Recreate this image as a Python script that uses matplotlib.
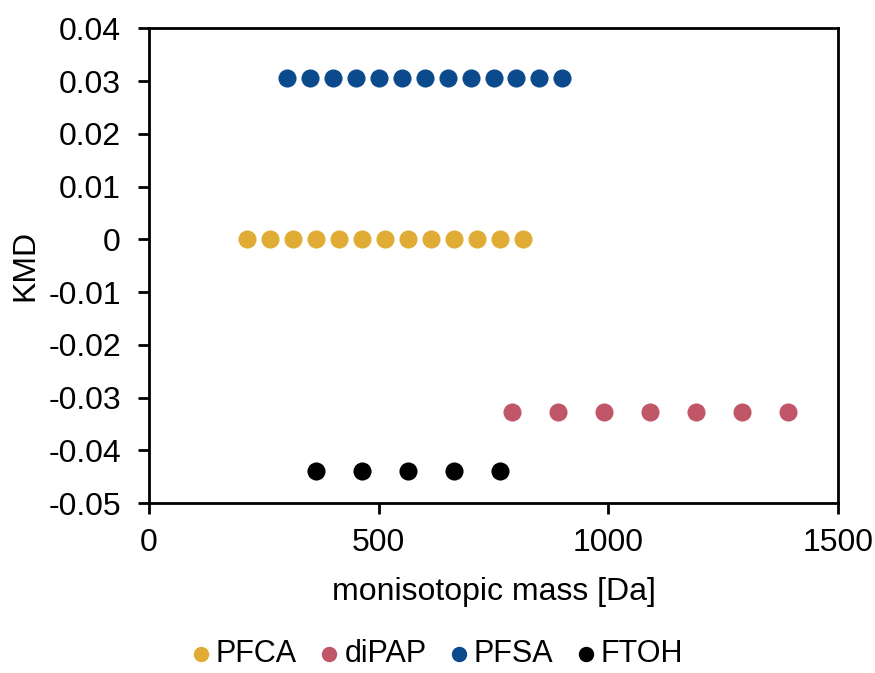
import matplotlib.pyplot as plt
import numpy as np

plt.rcParams['font.family'] = ['Liberation Sans', 'DejaVu Sans']

# monoisotopic masses [Da] and KMD values per class
pfca_mass = [214, 264, 314, 364, 414, 464, 514, 564, 614, 664, 714, 764, 814]
pfca_kmd = [0.0] * len(pfca_mass)

dipap_mass = [790, 890, 990, 1090, 1190, 1290, 1390]
dipap_kmd = [-0.0328] * len(dipap_mass)

pfsa_mass = [300, 350, 400, 450, 500, 550, 600, 650, 700, 750, 800, 850, 900]
pfsa_kmd = [0.0306] * len(pfsa_mass)

ftoh_mass = [364, 464, 564, 664, 764]
ftoh_kmd = [-0.0439] * len(ftoh_mass)

series = [
    ('PFCA', pfca_mass, pfca_kmd, '#E1AC35'),
    ('diPAP', dipap_mass, dipap_kmd, '#C05668'),
    ('PFSA', pfsa_mass, pfsa_kmd, '#0B4A8C'),
    ('FTOH', ftoh_mass, ftoh_kmd, '#000000'),
]

fs = 23

fig = plt.figure(figsize=(8.75, 6.73), dpi=100)
ax = fig.add_axes([0.170, 0.2526, 0.788, 0.7054])

for name, x, y, c in series:
    ax.scatter(x, y, s=170, color=c, label=name, linewidths=0, zorder=3)

ax.set_xlim(0, 1500)
ax.set_ylim(-0.05, 0.04)
ax.set_xticks([0, 500, 1000, 1500])
ax.set_yticks(np.round(np.arange(-0.05, 0.0401, 0.01), 2))
ax.set_yticklabels(['-0.05', '-0.04', '-0.03', '-0.02', '-0.01', '0',
                    '0.01', '0.02', '0.03', '0.04'])

for sp in ax.spines.values():
    sp.set_linewidth(2)
    sp.set_color('black')
ax.tick_params(direction='out', length=8, width=2, labelsize=fs)
ax.tick_params(axis='y', pad=12)
ax.tick_params(axis='x', pad=10)

ax.set_xlabel('monisotopic mass [Da]', fontsize=fs, labelpad=14)
ax.set_ylabel('KMD', fontsize=fs, labelpad=6)

fig.legend(loc='lower center', bbox_to_anchor=(0.5, -0.035), ncol=4,
           frameon=False, fontsize=22, markerscale=0.85, handlelength=0.6,
           handletextpad=0.2, columnspacing=0.75)

fig.savefig('out.png', dpi=100)
